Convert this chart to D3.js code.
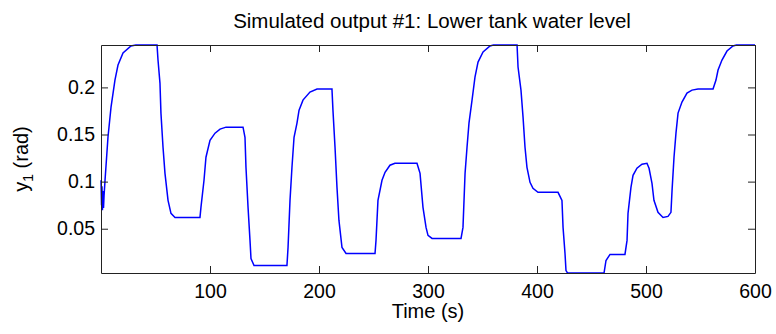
<!DOCTYPE html>
<html>
<head>
<meta charset="utf-8">
<script src="https://cdn.jsdelivr.net/npm/d3@7"></script>
<style>
  body { margin: 0; background: #fff; }
  svg text { font-family: "Liberation Sans", Arial, sans-serif; fill: #000; }
</style>
</head>
<body>
<script>
// valeurs
const temps = [0, 0.5, 0.9, 1.3, 1.8, 2.3, 2.8, 3.7, 6.4, 9.2, 12.8, 15.6, 20.2, 27.5, 32, 51.4,
  52.3, 54.1, 55.0, 56.9, 58.7, 61.5, 64.2, 67.9, 90.8,
  91.7, 94.5, 96.3, 100, 104.6, 109.2, 114.7, 130.3,
  132.1, 133.0, 134.9, 136.7, 137.6, 140.4, 170.6,
  171.6, 173.4, 175.2, 177.1, 179.8, 181.7, 185.3, 191.7, 198.2, 211.9,
  212.8, 214.7, 216.5, 218.3, 221.1, 224.8, 251.4,
  252.3, 254.1, 257.8, 260.6, 265.1, 269.7, 289.9,
  292.7, 295.4, 298.2, 300, 303.7, 330.3,
  332.1, 334, 335.8, 337.6, 340.4, 343.1, 345.9, 350.5, 356.9, 360, 381.7,
  382.6, 385.3, 387.2, 389, 390.8, 393.6, 396.3, 400.9, 419.3,
  422.9, 423.9, 425.7, 426.6, 428, 461.5,
  463.3, 467, 480.7,
  482.6, 483.5, 486.2, 488.1, 491.7, 496.3, 500.9, 502.8, 505.5, 507.3, 511, 515.6, 520.2, 522.9,
  523.9, 525.7, 527.5, 529.4, 533, 537.6, 542.2, 547.7, 561.5,
  564.2, 566.1, 569.7, 574.3, 579.8, 583, 600];

const niveau = [0.1014, 0.0748, 0.095, 0.0695, 0.09, 0.072, 0.085, 0.1014, 0.1471, 0.179, 0.2078, 0.2237, 0.2365, 0.244, 0.245, 0.245,
  0.229, 0.2046, 0.1727, 0.1365, 0.1088, 0.0801, 0.0663, 0.062, 0.062,
  0.0727, 0.1014, 0.1259, 0.1439, 0.1514, 0.1557, 0.1578, 0.1578,
  0.1471, 0.1152, 0.0727, 0.0376, 0.0184, 0.011, 0.011,
  0.0301, 0.0801, 0.1152, 0.1471, 0.1621, 0.1759, 0.1865, 0.195, 0.1982, 0.1982,
  0.1759, 0.1365, 0.0939, 0.0588, 0.0301, 0.0237, 0.0237,
  0.0376, 0.0801, 0.1014, 0.1099, 0.1174, 0.1195, 0.1195,
  0.1088, 0.0727, 0.0514, 0.0429, 0.0397, 0.0397,
  0.0514, 0.1088, 0.1365, 0.1621, 0.1865, 0.211, 0.2269, 0.2376, 0.244, 0.245, 0.245,
  0.2216, 0.1971, 0.1684, 0.1365, 0.1152, 0.0992, 0.0929, 0.0886, 0.0886,
  0.0801, 0.0514, 0.0237, 0.0056, 0.003, 0.003,
  0.0163, 0.0227, 0.0227,
  0.0376, 0.0663, 0.0939, 0.1067, 0.1142, 0.1184, 0.1195, 0.1142, 0.0982, 0.0801, 0.0674, 0.062, 0.0631, 0.0674,
  0.0907, 0.1259, 0.1514, 0.1727, 0.1844, 0.1939, 0.1971, 0.1982, 0.1982,
  0.2078, 0.2184, 0.229, 0.2386, 0.244, 0.245, 0.245];

const ticksX = [100, 200, 300, 400, 500, 600];
const ticksY = [0.05, 0.1, 0.15, 0.2];

const largeur = 776, hauteur = 334;
const marge = {haut: 45, droite: 21, bas: 61, gauche: 101};

const canevas = d3.select('body')
  .append('svg')
  .attr('width', largeur)
  .attr('height', hauteur);

const x = d3.scaleLinear()
  .domain([0, 600])
  .range([marge.gauche, largeur - marge.droite]);
const y = d3.scaleLinear()
  .domain([0.003, 0.245])
  .range([hauteur - marge.bas, marge.haut]);

const donnees = temps.map((t, i) => ({t: t, v: niveau[i]}));

// la courbe
canevas.append('path')
  .datum(donnees)
  .attr('fill', 'none')
  .attr('stroke', '#0000ff')
  .attr('stroke-width', 1.5)
  .attr('d', d3.line().x(d => x(d.t)).y(d => y(d.v)));

// axes (graduations vers l'intérieur)
const tailleTick = -7;
const styleAxe = g => {
  g.select('.domain').attr('stroke', '#222').attr('stroke-width', 1);
  g.selectAll('.tick line').attr('stroke', '#222');
  g.selectAll('.tick text').attr('font-size', 19.5).attr('fill', '#000');
};

canevas.append('g')
  .attr('transform', `translate(0,${y.range()[0]})`)
  .call(d3.axisBottom(x).tickValues(ticksX).tickSizeInner(tailleTick).tickSizeOuter(0).tickPadding(11))
  .call(styleAxe);
canevas.append('g')
  .attr('transform', `translate(0,${y.range()[1]})`)
  .call(d3.axisTop(x).tickValues(ticksX).tickSizeInner(tailleTick).tickSizeOuter(0).tickFormat(''))
  .call(styleAxe);
canevas.append('g')
  .attr('transform', `translate(${x.range()[0]},0)`)
  .call(d3.axisLeft(y).tickValues(ticksY).tickSizeInner(tailleTick).tickSizeOuter(0).tickPadding(6).tickFormat(d => String(d)))
  .call(styleAxe);
canevas.append('g')
  .attr('transform', `translate(${x.range()[1]},0)`)
  .call(d3.axisRight(y).tickValues(ticksY).tickSizeInner(tailleTick).tickSizeOuter(0).tickFormat(''))
  .call(styleAxe);

// textes
canevas.append('text')
  .attr('x', (x.range()[0] + x.range()[1]) / 2 + 4)
  .attr('y', 28)
  .attr('text-anchor', 'middle')
  .attr('font-size', 20.5)
  .text('Simulated output #1: Lower tank water level');

canevas.append('text')
  .attr('x', (x.range()[0] + x.range()[1]) / 2)
  .attr('y', 318)
  .attr('text-anchor', 'middle')
  .attr('font-size', 20)
  .text('Time (s)');

const etiquetteY = canevas.append('text')
  .attr('transform', `translate(28,${(y.range()[0] + y.range()[1]) / 2}) rotate(-90)`)
  .attr('text-anchor', 'middle')
  .attr('font-size', 20);
etiquetteY.append('tspan').text('y');
etiquetteY.append('tspan').attr('font-size', 14).attr('dy', 5).text('1');
etiquetteY.append('tspan').attr('dy', -5).text(' (rad)');
</script>
</body>
</html>
